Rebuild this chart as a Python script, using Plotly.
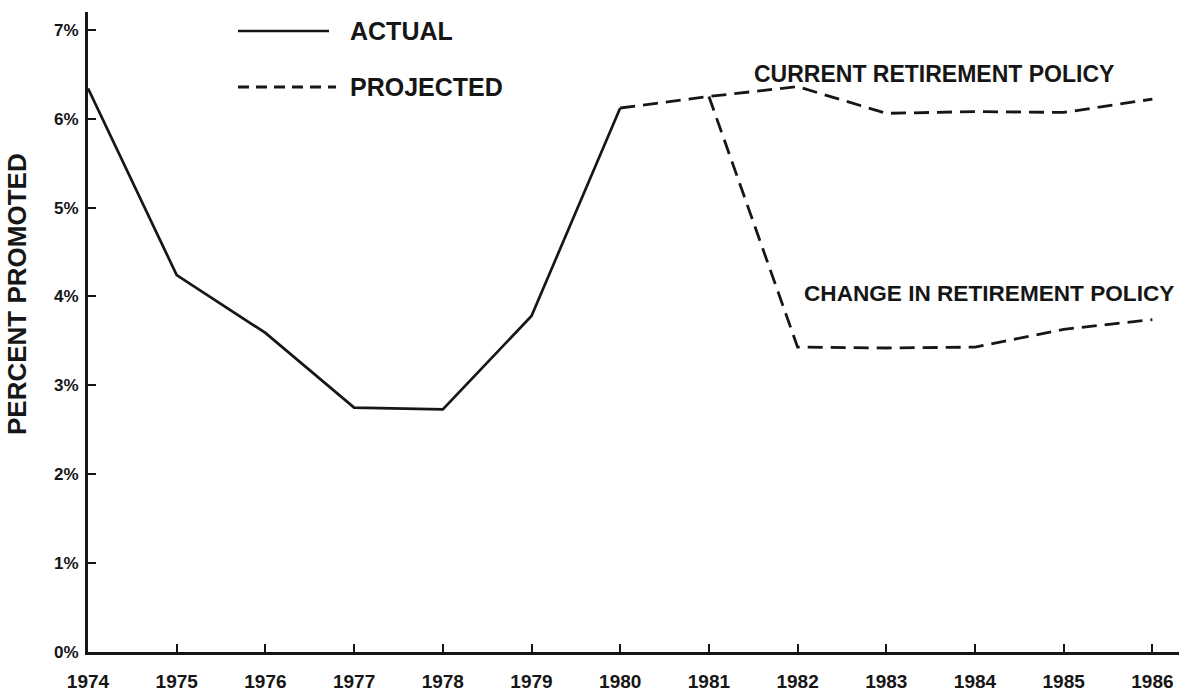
import plotly.graph_objects as go

# ---- data ----
actual_years = [1974, 1975, 1976, 1977, 1978, 1979, 1980]
actual_pct = [6.34, 4.24, 3.59, 2.75, 2.73, 3.78, 6.12]

current_years = [1980, 1981, 1982, 1983, 1984, 1985, 1986]
current_pct = [6.12, 6.25, 6.36, 6.06, 6.08, 6.07, 6.22]

change_years = [1981, 1982, 1983, 1984, 1985, 1986]
change_pct = [6.25, 3.43, 3.42, 3.43, 3.63, 3.74]

year_ticks = list(range(1974, 1987))
pct_ticks = list(range(0, 8))
pct_labels = [f"{v}%" for v in pct_ticks]

W, H = 1189, 696
ML, MR, MT, MB = 88, 10, 12, 44
PW, PH = W - ML - MR, H - MT - MB


def px(x):
    return (x - ML) / PW


def py(y):
    return (H - MB - y) / PH


INK = "#161616"
FONT = "Liberation Sans, Arial, Helvetica, sans-serif"

fig = go.Figure()
fig.add_trace(go.Scatter(x=actual_years, y=actual_pct, mode="lines",
                         line=dict(color=INK, width=2.7), name="ACTUAL",
                         showlegend=False))
fig.add_trace(go.Scatter(x=current_years, y=current_pct, mode="lines",
                         line=dict(color=INK, width=2.8, dash="15px,8px"),
                         name="CURRENT RETIREMENT POLICY", showlegend=False))
fig.add_trace(go.Scatter(x=change_years, y=change_pct, mode="lines",
                         line=dict(color=INK, width=2.8, dash="15px,8px"),
                         name="CHANGE IN RETIREMENT POLICY", showlegend=False))

shapes = [
    dict(type="line", xref="paper", yref="paper", x0=px(238), x1=px(329),
         y0=py(31), y1=py(31), line=dict(color=INK, width=2.6)),
    dict(type="line", xref="paper", yref="paper", x0=px(238), x1=px(336),
         y0=py(87), y1=py(87), line=dict(color=INK, width=2.8, dash="11px,7px")),
]

annotations = [
    dict(text="ACTUAL", xref="paper", yref="paper", x=px(348), y=py(31),
         xanchor="left", yanchor="middle", showarrow=False,
         font=dict(family=FONT, size=25, color=INK, weight="bold")),
    dict(text="PROJECTED", xref="paper", yref="paper", x=px(348), y=py(87),
         xanchor="left", yanchor="middle", showarrow=False,
         font=dict(family=FONT, size=25, color=INK, weight="bold")),
    dict(text="CURRENT RETIREMENT POLICY", xref="paper", yref="paper",
         x=px(752), y=py(74), xanchor="left", yanchor="middle", showarrow=False,
         font=dict(family=FONT, size=23, color=INK, weight="bold")),
    dict(text="CHANGE IN RETIREMENT POLICY", xref="paper", yref="paper",
         x=px(802), y=py(293), xanchor="left", yanchor="middle", showarrow=False,
         font=dict(family=FONT, size=22.6, color=INK, weight="bold")),
    dict(text="PERCENT PROMOTED", xref="paper", yref="paper",
         x=px(17), y=py(294), xanchor="center", yanchor="middle",
         textangle=-90, showarrow=False,
         font=dict(family=FONT, size=26, color=INK, weight="bold")),
]

fig.update_layout(
    template="none",
    width=W, height=H, autosize=False,
    margin=dict(l=ML, r=MR, t=MT, b=MB),
    paper_bgcolor="white", plot_bgcolor="white",
    shapes=shapes, annotations=annotations,
    showlegend=False,
    xaxis=dict(range=[1974, 1986.3], tickvals=year_ticks,
               ticktext=[str(y) for y in year_ticks], automargin=False,
               ticks="inside", ticklen=8, tickwidth=2, tickcolor=INK,
               showline=True, linewidth=3, linecolor=INK,
               showgrid=False, zeroline=False, ticklabelstandoff=10,
               tickfont=dict(family=FONT, size=19, color=INK, weight="bold")),
    yaxis=dict(range=[0, 7.2], tickvals=pct_ticks, ticktext=pct_labels,
               automargin=False,
               ticks="inside", ticklen=8, tickwidth=2, tickcolor=INK,
               showline=True, linewidth=3, linecolor=INK,
               showgrid=False, zeroline=False, ticklabelstandoff=3,
               tickfont=dict(family=FONT, size=17, color=INK, weight="bold")),
)

fig.write_html("out.html", config={"displayModeBar": False},
               post_script="document.body.style.margin='0';")
